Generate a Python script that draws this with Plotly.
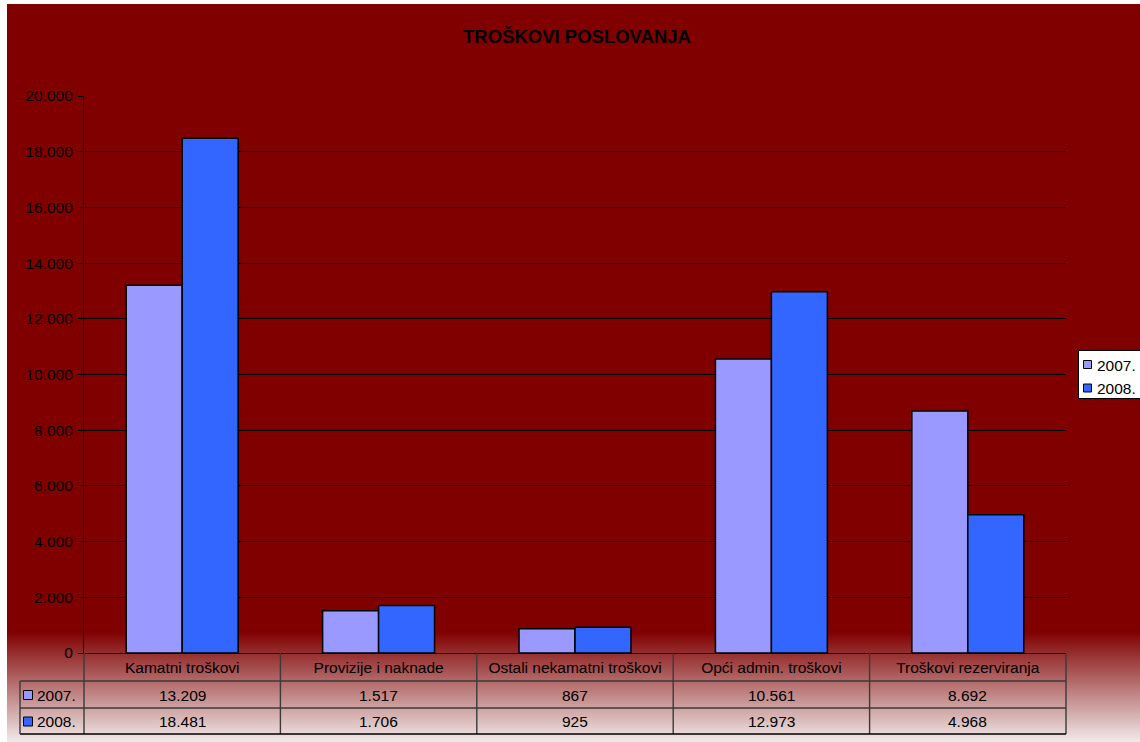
import plotly.graph_objects as go

# ---------------- data ----------------
categories = ["Kamatni troškovi", "Provizije i naknade", "Ostali nekamatni troškovi",
              "Opći admin. troškovi", "Troškovi rezerviranja"]
series_names = ["2007.", "2008."]
values_2007 = [13209, 1517, 867, 10561, 8692]
values_2008 = [18481, 1706, 925, 12973, 4968]
y_ticks = [0, 2000, 4000, 6000, 8000, 10000, 12000, 14000, 16000, 18000, 20000]
title_text = "TROŠKOVI POSLOVANJA"

# ---------------- style ----------------
colors = ["#9999FF", "#3366FF"]
FONT = "Liberation Sans, Arial, sans-serif"
FS = 15.5
W, H = 1140, 742
L, R, T, B = 84, 74, 96, 89
PW = W - L - R
PH = H - T - B


def px(x):
    return (x - L) / PW


def py(y):
    return (H - B - y) / PH


def fmt(v):
    return f"{v:,}".replace(",", ".")


series = [values_2007, values_2008]

fig = go.Figure()
for name, vals, col in zip(series_names, series, colors):
    fig.add_trace(go.Bar(
        x=categories, y=vals, name=name, showlegend=False,
        marker=dict(color=col, line=dict(color="black", width=1.5)),
    ))

shapes = []
# dark red background
shapes.append(dict(type="rect", xref="paper", yref="paper", layer="below",
                   x0=px(7), x1=px(W + 2), y0=py(634), y1=py(4),
                   fillcolor="#800000", line=dict(width=0)))
# bottom gradient to near white
g0, g1 = 632, H
N = 55
c0 = (128, 0, 0)
c1 = (242, 234, 234)
for i in range(N):
    t = (i + 0.5) / N
    c = tuple(round(a + (b - a) * t) for a, b in zip(c0, c1))
    ya = g0 + (g1 - g0) * i / N
    yb = g0 + (g1 - g0) * (i + 1) / N + 0.6
    shapes.append(dict(type="rect", xref="paper", yref="paper", layer="below",
                       x0=px(7), x1=px(W + 2), y0=py(yb), y1=py(ya),
                       fillcolor=f"rgb({c[0]},{c[1]},{c[2]})", line=dict(width=0)))

# data table grid
row_lines = [681, 708]
y_bottom = 734
n = len(categories)
for k in range(n + 1):
    shapes.append(dict(type="line", xref="paper", yref="paper",
                       x0=k / n, x1=k / n, y0=0, y1=py(y_bottom),
                       line=dict(color="#3a3a3a", width=1.4)))
for yl in row_lines:
    shapes.append(dict(type="line", xref="paper", yref="paper",
                       x0=px(20), x1=1, y0=py(yl), y1=py(yl),
                       line=dict(color="#3a3a3a", width=1.3)))
shapes.append(dict(type="line", xref="paper", yref="paper",
                   x0=px(20), x1=1, y0=py(y_bottom), y1=py(y_bottom),
                   line=dict(color="black", width=1.4)))
shapes.append(dict(type="line", xref="paper", yref="paper",
                   x0=px(20), x1=px(20), y0=py(row_lines[0]), y1=py(y_bottom),
                   line=dict(color="#3a3a3a", width=1.4)))

annotations = []
row_centers = [694.5, 721]
for name, vals, col, yc in zip(series_names, series, colors, row_centers):
    # legend key in table
    shapes.append(dict(type="rect", xref="paper", yref="paper",
                       x0=px(23.5), x1=px(32.5), y0=py(yc + 5), y1=py(yc - 4),
                       fillcolor=col, line=dict(color="black", width=1)))
    annotations.append(dict(xref="paper", yref="paper", x=px(35), y=py(yc + 0.5),
                            text=name, showarrow=False, xanchor="left", yanchor="middle",
                            font=dict(family=FONT, size=FS, color="black")))
    for cat, v in zip(categories, vals):
        annotations.append(dict(xref="x", yref="paper", x=cat, y=py(yc + 0.5),
                                text=fmt(v), showarrow=False, xanchor="center",
                                yanchor="middle",
                                font=dict(family=FONT, size=FS, color="black")))

# legend box (right side, runs off the edge like the reference)
shapes.append(dict(type="rect", xref="paper", yref="paper",
                   x0=px(1078.5), x1=px(W + 10), y0=py(398.5), y1=py(350.5),
                   fillcolor="white", line=dict(color="black", width=1)))
legend_centers = [364.5, 388]
for name, col, yc in zip(series_names, colors, legend_centers):
    shapes.append(dict(type="rect", xref="paper", yref="paper",
                       x0=px(1083.5), x1=px(1091.5), y0=py(yc + 4), y1=py(yc - 4),
                       fillcolor=col, line=dict(color="black", width=1)))
    annotations.append(dict(xref="paper", yref="paper", x=px(1094.5), y=py(yc + 0.5),
                            text=name, showarrow=False, xanchor="left", yanchor="middle",
                            font=dict(family=FONT, size=FS, color="black")))

fig.update_layout(
    width=W, height=H,
    margin=dict(l=L, r=R, t=T, b=B, autoexpand=False),
    paper_bgcolor="white",
    plot_bgcolor="rgba(0,0,0,0)",
    separators=",.",
    barmode="group", bargap=0.43, bargroupgap=0,
    font=dict(family=FONT, size=FS, color="black"),
    title=dict(text=title_text, x=577 / W, xanchor="center", y=1 - 37 / H,
               yanchor="middle", xref="container", yref="container",
               font=dict(family=FONT, size=18.5, color="black", weight="bold")),
    showlegend=False,
    shapes=shapes,
    annotations=annotations,
)
fig.update_xaxes(showline=True, linecolor="black", linewidth=1, ticks="",
                 showgrid=False, zeroline=False,
                 tickfont=dict(family=FONT, size=FS, color="black"))
fig.update_yaxes(range=[0, 20000], tickvals=y_ticks, tickformat=",d",
                 showgrid=True, gridcolor="black", gridwidth=1,
                 showline=True, linecolor="black", linewidth=1,
                 ticks="outside", ticklen=5, tickcolor="black",
                 ticklabelstandoff=2, zeroline=False,
                 tickfont=dict(family=FONT, size=FS, color="black"))

fig.write_html("out.html", config={"displayModeBar": False},
               post_script="document.body.style.margin='0';document.body.style.overflow='hidden';")
